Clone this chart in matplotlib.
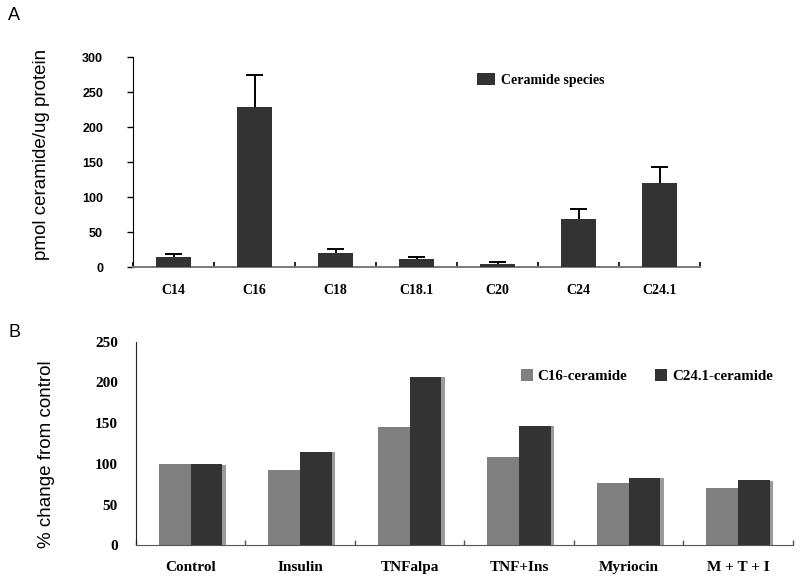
import matplotlib
import matplotlib.pyplot as plt
import matplotlib.patheffects as pe
import numpy as np

matplotlib.use("Agg")

# panel A: ceramide species
species = ["C14", "C16", "C18", "C18.1", "C20", "C24", "C24.1"]
species_pmol = [15, 229, 20, 12, 5, 69, 120]
species_err = [4, 45, 6, 3, 1.5, 14, 23]

# panel B: % change from control
treatments = ["Control", "Insulin", "TNFalpa", "TNF+Ins", "Myriocin", "M + T + I"]
c16_pct = [100, 93, 145, 108, 76, 70]
c241_pct = [100, 115, 207, 147, 83, 80]

SANS = "Liberation Sans"
SERIF = "Liberation Serif"
DARK = "#333333"
LIGHT = "#808080"

fig = plt.figure(figsize=(8, 5.78), dpi=100)

# ---- panel A ----
ax_a = fig.add_axes([0.16625, 0.538, 0.70875, 0.3633])
x = np.arange(len(species))
vals = np.array(species_pmol, dtype=float)
errs = np.array(species_err, dtype=float)
ax_a.bar(x, vals, width=0.42, color=DARK, label="Ceramide species", zorder=3)
# upper error bars only, no cap at the bar top
ax_a.vlines(x, vals, vals + errs, color="black", linewidth=1.4, zorder=2)
ax_a.hlines(vals + errs, x - 0.105, x + 0.105, color="black", linewidth=1.4, zorder=2)
ax_a.set_xlim(-0.5, len(species) - 0.5)
ax_a.set_ylim(0, 300)
ax_a.set_yticks(np.arange(0, 301, 50))
for lab in ax_a.get_yticklabels():
    lab.set_fontfamily(SANS)
    lab.set_fontweight("bold")
    lab.set_fontsize(9)
ax_a.tick_params(axis="y", direction="out", length=4.5, width=1, pad=17)
ax_a.set_xticks(np.arange(len(species) + 1) - 0.5)
ax_a.set_xticklabels([])
ax_a.set_xticks(x, minor=True)
ax_a.set_xticklabels(species, minor=True, fontfamily=SERIF, fontweight="bold", fontsize=10)
ax_a.tick_params(axis="x", which="major", direction="in", length=3.5, width=1.2, color="black")
ax_a.tick_params(axis="x", which="minor", length=0, pad=12)
for s in ["top", "right"]:
    ax_a.spines[s].set_visible(False)
ax_a.spines["left"].set_color("black")
ax_a.spines["bottom"].set_color("#7a7a7a")
ax_a.spines["bottom"].set_linewidth(1.4)
ax_a.set_ylabel("pmol ceramide/ug protein", fontfamily=SANS, fontsize=13.5)
ax_a.yaxis.set_label_coords(-0.146, 0.538)
ax_a.legend(loc="upper left", bbox_to_anchor=(0.585, 0.985), frameon=False,
            prop={"family": SERIF, "weight": "bold", "size": 10},
            handlelength=1.3, handleheight=1.0, handletextpad=0.4)

# ---- panel B ----
ax_b = fig.add_axes([0.17, 0.0566, 0.821, 0.3522])
xb = np.arange(len(treatments))
w = 0.29
shadow = [pe.SimplePatchShadow(offset=(2.5, -0.5), shadow_rgbFace="#9a9a9a", alpha=1.0), pe.Normal()]
b1 = ax_b.bar(xb - w / 2, c16_pct, width=w, color=LIGHT, label="C16-ceramide", zorder=2)
b2 = ax_b.bar(xb + w / 2, c241_pct, width=w, color=DARK, label="C24.1-ceramide", zorder=3)
for bars in (b1, b2):
    for p in bars:
        p.set_path_effects(shadow)
ax_b.set_xlim(-0.5, len(treatments) - 0.5)
ax_b.set_ylim(0, 250)
ax_b.set_yticks(np.arange(0, 251, 50))
for lab in ax_b.get_yticklabels():
    lab.set_fontfamily(SERIF)
    lab.set_fontweight("bold")
    lab.set_fontsize(11)
ax_b.tick_params(axis="y", length=0, pad=13)
ax_b.set_xticks(np.arange(len(treatments) + 1) - 0.5)
ax_b.set_xticklabels([])
ax_b.set_xticks(xb, minor=True)
ax_b.set_xticklabels(treatments, minor=True, fontfamily=SERIF, fontweight="bold", fontsize=11)
ax_b.tick_params(axis="x", which="major", direction="in", length=3.5, width=1, color="#555555")
ax_b.tick_params(axis="x", which="minor", length=0, pad=11)
for s in ["top", "right"]:
    ax_b.spines[s].set_visible(False)
ax_b.spines["left"].set_color("#222222")
ax_b.spines["bottom"].set_color("#555555")
ax_b.set_ylabel("% change from control", fontfamily=SANS, fontsize=13.5)
ax_b.yaxis.set_label_coords(-0.123, 0.448)
leg = ax_b.legend(loc="upper left", bbox_to_anchor=(0.565, 0.93), ncol=2, frameon=False,
                  prop={"family": SERIF, "weight": "bold", "size": 10.8},
                  handlelength=0.8, handleheight=0.8, handletextpad=0.3, columnspacing=1.9)
for h in leg.legend_handles:
    h.set_path_effects([])

fig.text(0.01, 0.974, "A", fontfamily=SANS, fontsize=13, va="center", ha="left")
fig.text(0.01, 0.424, "B", fontfamily=SANS, fontsize=13, va="center", ha="left")

fig.savefig("out.png", dpi=100)
